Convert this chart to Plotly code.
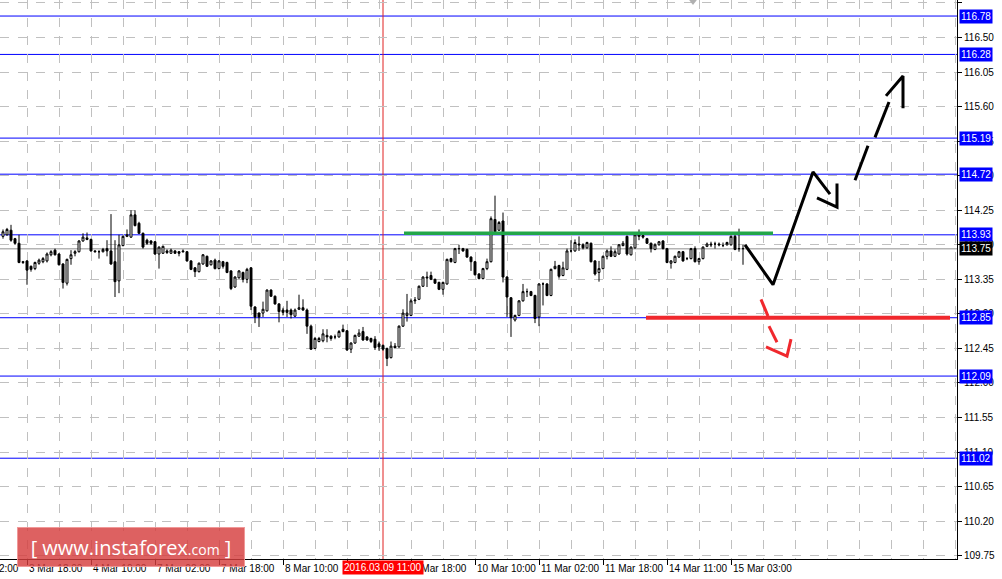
import plotly.graph_objects as go

# ---------------- data (H1 candles, bar index 0 = 3 Mar 18:00) ----------------
bar_index = list(range(-6, 180))

opens = [113.91, 113.93, 113.99, 113.88, 113.82, 113.58,
         113.59, 113.52, 113.49, 113.56, 113.58, 113.59, 113.67, 113.73, 113.68, 113.55,
         113.30, 113.62, 113.69, 113.71, 113.85, 113.89, 113.87, 113.72, 113.71, 113.71,
         113.75, 113.72, 113.58, 113.33, 113.79, 113.91, 113.90, 114.19, 114.08, 113.95,
         113.86, 113.85, 113.84, 113.68, 113.69, 113.72, 113.69, 113.72, 113.71, 113.72,
         113.71, 113.59, 113.50, 113.45, 113.55, 113.65, 113.54, 113.60, 113.49, 113.58,
         113.57, 113.46, 113.25, 113.37, 113.44, 113.35,
         113.50, 112.99, 112.91, 112.91, 112.94, 113.21, 113.13, 113.03, 112.95, 112.95,
         112.95, 112.87, 112.96, 112.98, 112.95, 112.74, 112.45, 112.54, 112.55, 112.62,
         112.61, 112.60, 112.60, 112.70, 112.68, 112.44, 112.52, 112.61, 112.67, 112.60,
         112.58, 112.57, 112.51, 112.49, 112.45, 112.33, 112.48, 112.47, 112.74, 112.88,
         112.88, 113.07, 113.09, 113.26, 113.38,
         113.40, 113.35, 113.31, 113.22, 113.29, 113.62, 113.57, 113.75, 113.75, 113.74,
         113.64, 113.58, 113.42, 113.36, 113.49, 113.58, 114.13, 113.99, 114.11, 113.38,
         113.11, 112.82, 112.88, 113.07, 113.19, 113.19, 113.14, 112.86, 113.29, 113.29,
         113.14, 113.49, 113.53, 113.40, 113.48, 113.72, 113.72, 113.81, 113.80, 113.76,
         113.82, 113.59, 113.44, 113.49, 113.65, 113.72, 113.65, 113.68, 113.79, 113.91,
         113.67, 113.76, 113.91, 113.92, 113.88, 113.82, 113.74, 113.80, 113.85, 113.75,
         113.56, 113.57, 113.64, 113.71, 113.62, 113.62, 113.75, 113.58, 113.62, 113.78,
         113.81, 113.81, 113.81, 113.79, 113.80, 113.80, 113.91, 113.75, 113.75]

highs = [114.00, 114.02, 114.06, 113.89, 113.93, 113.59,
         113.60, 113.53, 113.58, 113.62, 113.64, 113.70, 113.73, 113.75, 113.69, 113.56,
         113.62, 113.73, 113.73, 113.86, 113.95, 113.96, 113.88, 113.73, 113.73, 113.76,
         113.86, 114.20, 113.86, 113.93, 113.92, 114.00, 114.25, 114.25, 114.10, 113.96,
         113.88, 113.86, 113.85, 113.78, 113.79, 113.74, 113.75, 113.73, 113.72, 113.74,
         113.72, 113.60, 113.51, 113.57, 113.68, 113.66, 113.60, 113.62, 113.60, 113.59,
         113.58, 113.47, 113.39, 113.47, 113.45, 113.50,
         113.51, 113.00, 112.92, 113.06, 113.22, 113.22, 113.14, 113.04, 112.98, 113.07,
         112.97, 112.97, 113.15, 113.09, 112.97, 112.76, 112.60, 112.60, 112.70, 112.70,
         112.62, 112.63, 112.69, 112.76, 112.69, 112.53, 112.63, 112.70, 112.73, 112.61,
         112.59, 112.61, 112.54, 112.50, 112.46, 112.54, 112.52, 112.75, 112.96, 113.16,
         113.10, 113.12, 113.27, 113.39, 113.45,
         113.45, 113.36, 113.32, 113.32, 113.62, 113.63, 113.76, 113.80, 113.76, 113.75,
         113.65, 113.59, 113.43, 113.50, 113.62, 114.17, 114.44, 114.11, 114.22, 113.39,
         113.12, 112.89, 113.08, 113.29, 113.23, 113.20, 113.15, 113.30, 113.31, 113.30,
         113.49, 113.59, 113.54, 113.58, 113.75, 113.86, 113.87, 113.91, 113.82, 113.84,
         113.83, 113.60, 113.59, 113.66, 113.74, 113.78, 113.74, 113.81, 113.85, 113.92,
         113.78, 113.93, 114.00, 113.94, 113.89, 113.83, 113.82, 113.85, 113.86, 113.76,
         113.60, 113.66, 113.72, 113.72, 113.64, 113.76, 113.78, 113.63, 113.78, 113.83,
         113.84, 113.84, 113.83, 113.83, 113.84, 113.92, 113.95, 114.01, 113.80]

lows = [113.88, 113.92, 113.84, 113.80, 113.56, 113.55,
        113.28, 113.45, 113.47, 113.54, 113.56, 113.57, 113.65, 113.66, 113.53, 113.23,
        113.27, 113.54, 113.65, 113.70, 113.84, 113.86, 113.71, 113.70, 113.62, 113.70,
        113.65, 113.54, 113.12, 113.17, 113.78, 113.90, 113.89, 114.04, 113.94, 113.75,
        113.80, 113.80, 113.67, 113.49, 113.68, 113.68, 113.68, 113.68, 113.65, 113.70,
        113.58, 113.47, 113.38, 113.44, 113.54, 113.51, 113.53, 113.48, 113.48, 113.49,
        113.43, 113.21, 113.24, 113.36, 113.31, 113.30,
        112.95, 112.78, 112.73, 112.86, 112.93, 113.12, 113.02, 112.79, 112.88, 112.86,
        112.84, 112.86, 112.95, 112.94, 112.64, 112.43, 112.44, 112.53, 112.53, 112.53,
        112.55, 112.57, 112.59, 112.66, 112.42, 112.39, 112.51, 112.60, 112.55, 112.55,
        112.52, 112.43, 112.42, 112.42, 112.22, 112.32, 112.45, 112.46, 112.73, 112.80,
        112.87, 113.03, 113.08, 113.25, 113.25,
        113.34, 113.29, 113.21, 113.15, 113.28, 113.57, 113.56, 113.68, 113.71, 113.63,
        113.46, 113.40, 113.35, 113.35, 113.47, 113.57, 113.96, 113.98, 113.31, 112.86,
        112.60, 112.80, 112.87, 113.06, 113.12, 113.13, 112.78, 112.74, 113.01, 113.13,
        113.13, 113.48, 113.36, 113.39, 113.47, 113.70, 113.71, 113.72, 113.74, 113.75,
        113.57, 113.40, 113.32, 113.48, 113.61, 113.64, 113.64, 113.67, 113.78, 113.66,
        113.66, 113.75, 113.86, 113.88, 113.81, 113.70, 113.73, 113.79, 113.74, 113.56,
        113.49, 113.56, 113.63, 113.58, 113.60, 113.61, 113.57, 113.54, 113.61, 113.77,
        113.77, 113.75, 113.78, 113.77, 113.79, 113.79, 113.73, 113.71, 113.54]

closes = [113.97, 114.00, 113.86, 113.82, 113.57, 113.57,
          113.47, 113.48, 113.57, 113.60, 113.62, 113.68, 113.71, 113.67, 113.54, 113.31,
          113.61, 113.67, 113.71, 113.85, 113.90, 113.87, 113.72, 113.71, 113.71, 113.74,
          113.72, 113.55, 113.32, 113.80, 113.91, 113.93, 114.19, 114.05, 113.95, 113.77,
          113.82, 113.82, 113.68, 113.77, 113.78, 113.70, 113.73, 113.69, 113.69, 113.71,
          113.59, 113.48, 113.45, 113.56, 113.67, 113.52, 113.59, 113.49, 113.59, 113.52,
          113.44, 113.23, 113.38, 113.46, 113.35, 113.48,
          113.00, 112.86, 112.86, 112.96, 113.21, 113.13, 113.03, 112.93, 112.92, 112.92,
          112.89, 112.95, 112.98, 112.95, 112.74, 112.44, 112.58, 112.58, 112.64, 112.60,
          112.58, 112.60, 112.67, 112.67, 112.43, 112.52, 112.62, 112.65, 112.56, 112.56,
          112.54, 112.46, 112.47, 112.44, 112.32, 112.48, 112.46, 112.74, 112.91, 112.91,
          113.07, 113.08, 113.26, 113.38, 113.37,
          113.35, 113.30, 113.22, 113.31, 113.61, 113.58, 113.75, 113.75, 113.72, 113.64,
          113.58, 113.41, 113.36, 113.49, 113.58, 114.14, 113.97, 114.09, 113.38, 113.12,
          112.85, 112.88, 113.07, 113.19, 113.19, 113.14, 112.84, 113.29, 113.29, 113.14,
          113.48, 113.52, 113.39, 113.50, 113.72, 113.72, 113.83, 113.80, 113.76, 113.83,
          113.58, 113.42, 113.49, 113.65, 113.72, 113.65, 113.71, 113.80, 113.82, 113.68,
          113.77, 113.93, 113.93, 113.90, 113.82, 113.75, 113.80, 113.84, 113.75, 113.57,
          113.59, 113.65, 113.71, 113.59, 113.62, 113.75, 113.58, 113.62, 113.77, 113.81,
          113.80, 113.81, 113.80, 113.79, 113.83, 113.91, 113.74, 113.75, 113.75]

# horizontal levels
blue_levels = [116.78, 116.28, 115.19, 114.72, 113.93, 112.85, 112.09, 111.02]
bid_price = 113.75
cursor_bar = 89
cursor_label = "2016.03.09 11:00"

resist_x = [94.25, 186.5]
resist_y = [113.95, 113.95]
support_x = [154.75, 230.75]
support_y = [112.85, 112.85]

# trade marker at the top edge
marker_bar = [166.5]
marker_price = [116.97]

# forecast arrows (bar index, price)
up_solid_x = [179.5, 186.5, 196.5, 200.75, None, 197.5, 202.5, 202.5]
up_solid_y = [113.80, 113.28, 114.75, 114.46, None, 114.41, 114.29, 114.60]
up_dash_x = [207, 210.25, None, 212, 215.5, None, 214.75, 219, 219]
up_dash_y = [114.64, 115.09, None, 115.20, 115.66, None, 115.74, 116.00, 115.58]
down_x = [183.5, 185.25, None, 185.5, 187.5, None, 184.75, 190, 191]
down_y = [113.09, 112.87, None, 112.74, 112.53, None, 112.47, 112.35, 112.57]

# time axis labels
tick_bars = [-16, 0, 16, 32, 48, 64, 80, 96, 112, 128, 144, 160, 176]
tick_text = ["3 Mar 02:00", "3 Mar 18:00", "4 Mar 10:00", "7 Mar 02:00", "7 Mar 18:00",
             "8 Mar 10:00", "9 Mar 02:00", "9 Mar 18:00", "10 Mar 10:00", "11 Mar 02:00",
             "11 Mar 18:00", "14 Mar 11:00", "15 Mar 03:00"]

# price axis
y_min, y_max = 109.707, 116.989
x_min, x_max = -6.75, 232.5
price_tick0, price_step = 109.75, 0.45

FONT = "Liberation Sans"

fig = go.Figure()

fig.add_trace(go.Candlestick(
    x=bar_index, open=opens, high=highs, low=lows, close=closes,
    increasing=dict(line=dict(color="black", width=1), fillcolor="white"),
    decreasing=dict(line=dict(color="black", width=1), fillcolor="black"),
    whiskerwidth=0, hoverinfo="skip", showlegend=False))

fig.add_trace(go.Scatter(x=resist_x, y=resist_y, mode="lines",
                         line=dict(color="#22A64A", width=3.5), hoverinfo="skip", showlegend=False))
fig.add_trace(go.Scatter(x=support_x, y=support_y, mode="lines",
                         line=dict(color="#F0282D", width=4), hoverinfo="skip", showlegend=False))
fig.add_trace(go.Scatter(x=up_solid_x, y=up_solid_y, mode="lines",
                         line=dict(color="black", width=3), hoverinfo="skip", showlegend=False))
fig.add_trace(go.Scatter(x=up_dash_x, y=up_dash_y, mode="lines",
                         line=dict(color="black", width=3), hoverinfo="skip", showlegend=False))
fig.add_trace(go.Scatter(x=down_x, y=down_y, mode="lines",
                         line=dict(color="#F0282D", width=3), hoverinfo="skip", showlegend=False))
fig.add_trace(go.Scatter(x=marker_bar, y=marker_price, mode="markers",
                         marker=dict(symbol="triangle-down", size=7, color="#B0B0B0"),
                         cliponaxis=True, hoverinfo="skip", showlegend=False))

shapes = []
for lv in blue_levels:
    shapes.append(dict(type="line", xref="paper", x0=0, x1=1, yref="y", y0=lv, y1=lv,
                       line=dict(color="#0000FF", width=1), layer="below"))
shapes.append(dict(type="line", xref="paper", x0=0, x1=1, yref="y", y0=bid_price, y1=bid_price,
                   line=dict(color="#B4B4B4", width=1.5), layer="below"))
shapes.append(dict(type="line", xref="x", x0=cursor_bar, x1=cursor_bar, yref="paper", y0=0, y1=1,
                   line=dict(color="#E02020", width=1), layer="below"))

annotations = []
for lv in blue_levels:
    annotations.append(dict(xref="paper", x=1, xanchor="left", xshift=2, yref="y", y=lv,
                            text=f"{lv:.2f}", showarrow=False, bgcolor="#0000FF",
                            font=dict(color="white", size=10, family=FONT), borderpad=1))
annotations.append(dict(xref="paper", x=1, xanchor="left", xshift=2, yref="y", y=bid_price,
                        text=f"{bid_price:.2f}", showarrow=False, bgcolor="black",
                        font=dict(color="white", size=10, family=FONT), borderpad=1))

for b, t in zip(tick_bars, tick_text):
    annotations.append(dict(xref="paper", x=(b - x_min) / (x_max - x_min), xanchor="left",
                            yref="paper", y=0, yanchor="top", yshift=-2, text=t, showarrow=False,
                            font=dict(color="black", size=10, family=FONT)))
annotations.append(dict(xref="paper", x=(cursor_bar - x_min) / (x_max - x_min), xanchor="center",
                        yref="paper", y=0, yanchor="top", yshift=-1, text=cursor_label,
                        showarrow=False, bgcolor="#FF0000", borderpad=1,
                        font=dict(color="white", size=10, family=FONT)))

# watermark logo
annotations.append(dict(xref="paper", x=17 / 957, xanchor="left", yref="paper", y=12 / 559,
                        yanchor="middle", width=224, height=36, showarrow=False,
                        text="[ www.instaforex<span style='font-size:14px'>.com</span> ]",
                        bgcolor="rgba(214,62,62,0.82)", bordercolor="rgba(240,150,150,0.9)",
                        borderwidth=1, font=dict(color="white", size=20, family="Open Sans")))

fig.update_layout(
    width=1002, height=579,
    margin=dict(l=0, r=45, t=0, b=20),
    paper_bgcolor="white", plot_bgcolor="white",
    shapes=shapes, annotations=annotations,
    showlegend=False,
    xaxis=dict(range=[x_min, x_max], rangeslider=dict(visible=False),
               tickmode="array", tickvals=tick_bars, showticklabels=False,
               ticks="outside", ticklen=5, tickcolor="black",
               showgrid=False, zeroline=False,
               showline=True, linecolor="black", linewidth=1,
               minor=dict(tickmode="linear", tick0=0, dtick=8, showgrid=True,
                          gridcolor="#C0C0C0", griddash="dash", gridwidth=1, ticks="")),
    yaxis=dict(range=[y_min, y_max], side="right", tickmode="linear",
               tick0=price_tick0, dtick=price_step, tickformat=".2f",
               ticks="outside", ticklen=4, tickcolor="black",
               tickfont=dict(color="black", size=10, family=FONT),
               showgrid=True, gridcolor="#C0C0C0", griddash="dash", gridwidth=1,
               zeroline=False, showline=True, linecolor="black", linewidth=1),
)

fig.write_html("out.html", config={"displayModeBar": False},
               post_script="document.body.style.margin='0';document.body.style.overflow='hidden';")
